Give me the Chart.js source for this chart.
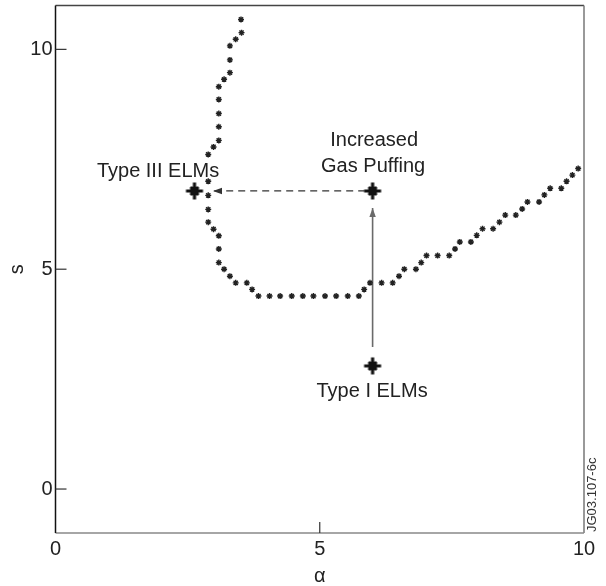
<!DOCTYPE html>
<html>
<head>
<meta charset="utf-8">
<title>Type I / Type III ELMs</title>
<script src="https://cdn.jsdelivr.net/npm/chart.js@4"></script>
<style>
  body { margin: 0; background: #fff; }
  canvas { display: block; }
</style>
</head>
<body>
<canvas id="elmChart" width="606" height="586"></canvas>
<script>
// boundary curve (alpha, s)
const curveAlpha = [3.51, 3.52, 3.41, 3.30, 3.30, 3.30, 3.19, 3.09, 3.09, 3.09, 3.09, 3.09, 2.99, 2.89,
    2.89, 2.89, 2.89, 2.89, 2.99, 3.09, 3.09, 3.09, 3.19, 3.30, 3.41, 3.62, 3.72, 3.84,
    4.05, 4.25, 4.47, 4.68, 4.88, 5.10, 5.31, 5.53, 5.74,
    5.84, 5.95, 6.17, 6.38, 6.50, 6.60, 6.82, 6.92, 7.02, 7.23, 7.45, 7.56, 7.65, 7.86,
    7.97, 8.08, 8.28, 8.40, 8.51, 8.71, 8.83, 8.93, 9.15, 9.25, 9.36, 9.57, 9.67, 9.78, 9.89];
const curveS = [10.68, 10.38, 10.23, 10.08, 9.76, 9.47, 9.32, 9.15, 8.86, 8.54, 8.24, 7.93, 7.78, 7.61,
    7.00, 6.68, 6.36, 6.07, 5.91, 5.76, 5.46, 5.15, 5.00, 4.84, 4.69, 4.69, 4.54, 4.39,
    4.39, 4.39, 4.39, 4.39, 4.39, 4.39, 4.39, 4.39, 4.39,
    4.54, 4.69, 4.69, 4.69, 4.84, 5.00, 5.00, 5.15, 5.31, 5.31, 5.31, 5.46, 5.62, 5.62,
    5.77, 5.92, 5.92, 6.07, 6.23, 6.23, 6.37, 6.53, 6.53, 6.69, 6.84, 6.84, 7.00, 7.14, 7.29];

// operating points: Type III, gas puffing, Type I
const markerAlpha = [2.63, 6.0, 6.0];
const markerS = [6.78, 6.78, 2.80];

// arrows: Type I -> gas puffing (solid), gas puffing -> Type III (dashed)
const upArrowAlpha = [6.0, 6.0];
const upArrowS = [3.23, 6.39];
const leftArrowAlpha = [5.86, 2.98];
const leftArrowS = [6.78, 6.78];

// text labels
const labelTexts = ['Type III ELMs', 'Increased', 'Gas Puffing', 'Type I ELMs'];
const labelAlpha = [1.94, 6.03, 6.01, 5.99];
const labelS = [7.23, 7.93, 7.34, 2.22];

const xTicks = [0, 5, 10];
const yTicks = [0, 5, 10];

const FONT = "'Liberation Sans', Arial, sans-serif";
const INK = '#222';

const toPoints = (xs, ys) => xs.map((x, i) => ({ x, y: ys[i] }));

// bold plus-shaped blob used for the operating points (drawn once, used as pointStyle)
function makeBigMarker() {
    const c = document.createElement('canvas');
    c.width = 22; c.height = 22;
    const g = c.getContext('2d');
    g.translate(11, 11);
    g.strokeStyle = g.fillStyle = '#111';
    g.lineWidth = 3.2;
    g.beginPath();
    g.moveTo(-8.5, 0); g.lineTo(8.5, 0);
    g.moveTo(0, -8.5); g.lineTo(0, 8.5);
    g.stroke();
    g.lineWidth = 2.8;
    g.beginPath();
    g.moveTo(-4, -4); g.lineTo(4, 4);
    g.moveTo(4, -4); g.lineTo(-4, 4);
    g.stroke();
    g.beginPath();
    g.arc(0, 0, 4.6, 0, Math.PI * 2);
    g.fill();
    return c;
}

// frame, inward ticks, arrowheads and labels
const decorPlugin = {
    id: 'decor',
    afterDatasetsDraw(chart) {
        const { ctx, chartArea: a, scales: { x, y } } = chart;
        ctx.save();

        // frame
        ctx.lineWidth = 1.5;
        const side = (c, x1, y1, x2, y2) => {
            ctx.strokeStyle = c;
            ctx.beginPath(); ctx.moveTo(x1, y1); ctx.lineTo(x2, y2); ctx.stroke();
        };
        side('#444', a.left, a.top, a.right, a.top);
        side('#777', a.right, a.top, a.right, a.bottom);
        side('#888', a.left, a.bottom, a.right, a.bottom);
        side('#111', a.left, a.top, a.left, a.bottom);

        // inward ticks
        ctx.lineWidth = 1.2;
        yTicks.forEach(v => {
            const py = y.getPixelForValue(v);
            side('#333', a.left, py, a.left + 11, py);
        });
        xTicks.filter(v => v > x.min && v < x.max).forEach(v => {
            const px = x.getPixelForValue(v);
            side('#333', px, a.bottom, px, a.bottom - 11);
        });

        // arrowheads at the end of each arrow dataset
        chart.data.datasets.forEach(ds => {
            if (!ds.arrow) return;
            const p = ds.data;
            const x1 = x.getPixelForValue(p[p.length - 2].x), y1 = y.getPixelForValue(p[p.length - 2].y);
            const x2 = x.getPixelForValue(p[p.length - 1].x), y2 = y.getPixelForValue(p[p.length - 1].y);
            const ang = Math.atan2(y2 - y1, x2 - x1);
            const len = 9, half = 3.2;
            ctx.fillStyle = ds.borderColor;
            ctx.beginPath();
            ctx.moveTo(x2, y2);
            ctx.lineTo(x2 - len * Math.cos(ang) + half * Math.sin(ang), y2 - len * Math.sin(ang) - half * Math.cos(ang));
            ctx.lineTo(x2 - len * Math.cos(ang) - half * Math.sin(ang), y2 - len * Math.sin(ang) + half * Math.cos(ang));
            ctx.closePath();
            ctx.fill();
        });

        // labels
        ctx.fillStyle = INK;
        ctx.font = '20px ' + FONT;
        ctx.textAlign = 'center';
        ctx.textBaseline = 'middle';
        labelTexts.forEach((t, i) => {
            ctx.fillText(t, x.getPixelForValue(labelAlpha[i]), y.getPixelForValue(labelS[i]));
        });

        // figure reference, vertical at the right edge
        ctx.translate(a.right + 8, a.bottom);
        ctx.rotate(-Math.PI / 2);
        ctx.font = '13px ' + FONT;
        ctx.textAlign = 'left';
        ctx.fillStyle = '#333';
        ctx.fillText('JG03.107-6c', 1, 0);
        ctx.restore();
    }
};

new Chart(document.getElementById('elmChart'), {
    type: 'scatter',
    data: {
        datasets: [{
            data: toPoints(curveAlpha, curveS),
            pointStyle: 'star',
            pointRadius: 3,
            borderColor: INK,
            borderWidth: 1.4
        }, {
            data: toPoints(upArrowAlpha, upArrowS),
            showLine: true,
            pointRadius: 0,
            borderColor: '#6a6a6a',
            borderWidth: 1.6,
            arrow: true
        }, {
            data: toPoints(leftArrowAlpha, leftArrowS),
            showLine: true,
            pointRadius: 0,
            borderColor: '#333',
            borderWidth: 1.3,
            borderDash: [7, 5],
            arrow: true
        }, {
            data: toPoints(markerAlpha, markerS),
            pointStyle: makeBigMarker(),
            pointRadius: 1,
            borderWidth: 0
        }]
    },
    options: {
        responsive: false,
        animation: false,
        devicePixelRatio: 1,
        layout: { padding: { top: 5, right: 22, left: 0, bottom: 0 } },
        plugins: { legend: { display: false }, tooltip: { enabled: false } },
        scales: {
            x: {
                type: 'linear',
                min: 0,
                max: 10,
                afterBuildTicks: s => { s.ticks = xTicks.map(v => ({ value: v })); },
                afterFit: s => { s.height = 53; },
                grid: { display: false, drawTicks: false },
                border: { display: false },
                ticks: { color: INK, padding: 4, maxRotation: 0, font: { family: FONT, size: 20 } },
                title: { display: true, text: 'α', color: INK, padding: { top: 0, bottom: -2 }, font: { family: FONT, size: 20 } }
            },
            y: {
                type: 'linear',
                min: -1,
                max: 11,
                afterBuildTicks: s => { s.ticks = yTicks.map(v => ({ value: v })); },
                afterFit: s => { s.width = 55.5; s.paddingTop = 0; s.paddingBottom = 0; },
                grid: { display: false, drawTicks: false },
                border: { display: false },
                ticks: { color: INK, padding: 3, font: { family: FONT, size: 20 } },
                title: { display: true, text: 's', color: INK, padding: { top: 5, bottom: 0 }, font: { family: FONT, size: 20 } }
            }
        }
    },
    plugins: [decorPlugin]
});
</script>
</body>
</html>
